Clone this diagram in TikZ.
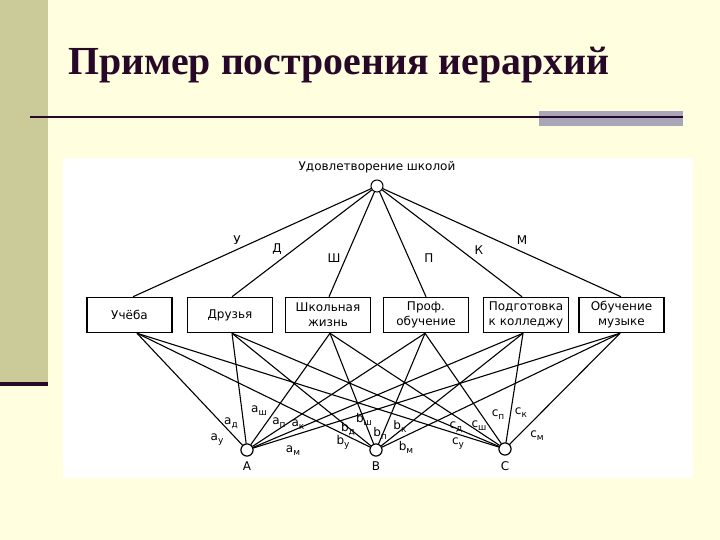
\documentclass[tikz,border=0pt]{standalone}
\usepackage{fontspec}
\setmainfont{DejaVu Sans}
\newfontfamily\titlefont{Liberation Serif}
\definecolor{bgyellow}{RGB}{255,255,224}
\definecolor{leftbar}{RGB}{203,203,153}
\definecolor{darkpurple}{RGB}{40,8,40}
\definecolor{graybar}{RGB}{168,166,184}
\definecolor{titlecol}{RGB}{40,8,40}
\newcommand\sublab[2]{#1\raisebox{-0.45ex}{\fontsize{9}{10}\selectfont #2}}
\begin{document}
\begin{tikzpicture}[x=1pt,y=-1pt,
  box/.style={draw, line width=1.5pt, minimum width=85pt, minimum height=35pt, align=center,
    font=\fontsize{12}{15}\selectfont, fill=white, inner sep=1pt},
  dot/.style={circle, draw, fill=white, minimum size=12pt, inner sep=0pt, line width=1pt},
  edge/.style={line width=1.1pt},
  lab/.style={font=\fontsize{12}{14}\selectfont, inner sep=0pt},
  elab/.style={font=\fontsize{12}{14}\selectfont, inner sep=0pt}]
\useasboundingbox (0,0) rectangle (720,540);
% background
\fill[bgyellow] (0,0) rectangle (720,540);
\fill[leftbar] (0,0) rectangle (48,382);
\fill[darkpurple] (0,382) rectangle (48,386);
\fill[graybar] (539,111) rectangle (683,126);
\draw[line width=2.5pt, darkpurple] (30,117) -- (683,117);
\fill[white] (63,158) rectangle (693,478);
% title
\node[anchor=base west, font=\titlefont\bfseries\fontsize{39.8}{46}\selectfont, text=titlecol, inner sep=0pt] (title) at (68,75) {Пример построения иерархий};
% top
\node[dot] (top) at (377,186) {};
\node[lab] (toplab) at (377,167) {Удовлетворение школой};
% boxes
\node[box] (b1) at (129.5,315) {Учёба};
\node[box] (b2) at (230,315) {Друзья};
\node[box] (b3) at (328,315) {Школьная\\жизнь};
\node[box] (b4) at (426,315) {Проф.\\обучение};
\node[box] (b5) at (526,315) {Подготовка\\к колледжу};
\node[box] (b6) at (621.5,315) {Обучение\\музыке};
% bottom
\node[dot] (A) at (247,450) {};
\node[dot] (B) at (376,450) {};
\node[dot] (C) at (505,449) {};
\node[lab] (Alab) at (247,466) {A};
\node[lab] (Blab) at (376,466) {B};
\node[lab] (Clab) at (505,466) {C};
% top edges
\draw[edge] (top) -- ([xshift=3.5pt]b1.north);
\draw[edge] (top) -- ([xshift=2pt]b2.north);
\draw[edge] (top) -- ([xshift=1pt]b3.north);
\draw[edge] (top) -- ([xshift=0pt]b4.north);
\draw[edge] (top) -- ([xshift=-4pt]b5.north);
\draw[edge] (top) -- ([xshift=-0.5pt]b6.north);
\node[elab] (lu) at (237,240) {У};
\node[elab] (ld) at (277,249) {Д};
\node[elab] (lsh) at (334,258) {Ш};
\node[elab] (lp) at (429,258) {П};
\node[elab] (lk) at (479,250) {К};
\node[elab] (lm) at (522,240) {М};
% bottom edges
\foreach \b/\s in {b1/7.5, b2/2, b3/2, b4/-1, b5/-3, b6/-1.5}{
  \foreach \t in {A,B,C}{
    \draw[edge] ([xshift=\s pt]\b.south) -- (\t);
  }
}
\node[dot] at (A) {};
\node[dot] at (B) {};
\node[dot] at (C) {};
% edge labels A
\node[elab] (au) at (217,440) {\sublab{a}{у}};
\node[elab] (ad) at (231,423) {\sublab{a}{д}};
\node[elab] (ash) at (259,411) {\sublab{a}{ш}};
\node[elab] (ap) at (279,423) {\sublab{a}{п}};
\node[elab] (ak) at (298,425) {\sublab{a}{к}};
\node[elab] (am) at (293,451) {\sublab{a}{м}};
% edge labels B
\node[elab] (bu) at (343,442) {\sublab{b}{у}};
\node[elab] (bd) at (348,429) {\sublab{b}{д}};
\node[elab] (bsh) at (364,419) {\sublab{b}{ш}};
\node[elab] (bp) at (380,433) {\sublab{b}{п}};
\node[elab] (bk) at (400,426) {\sublab{b}{к}};
\node[elab] (bm) at (406,447) {\sublab{b}{м}};
% edge labels C
\node[elab] (cu) at (458,444) {\sublab{c}{у}};
\node[elab] (cd) at (456,427) {\sublab{c}{д}};
\node[elab] (csh) at (479,426) {\sublab{c}{ш}};
\node[elab] (cp) at (498,415) {\sublab{c}{п}};
\node[elab] (ck) at (521,413) {\sublab{c}{к}};
\node[elab] (cm) at (537,436) {\sublab{c}{м}};
\end{tikzpicture}
\end{document}
